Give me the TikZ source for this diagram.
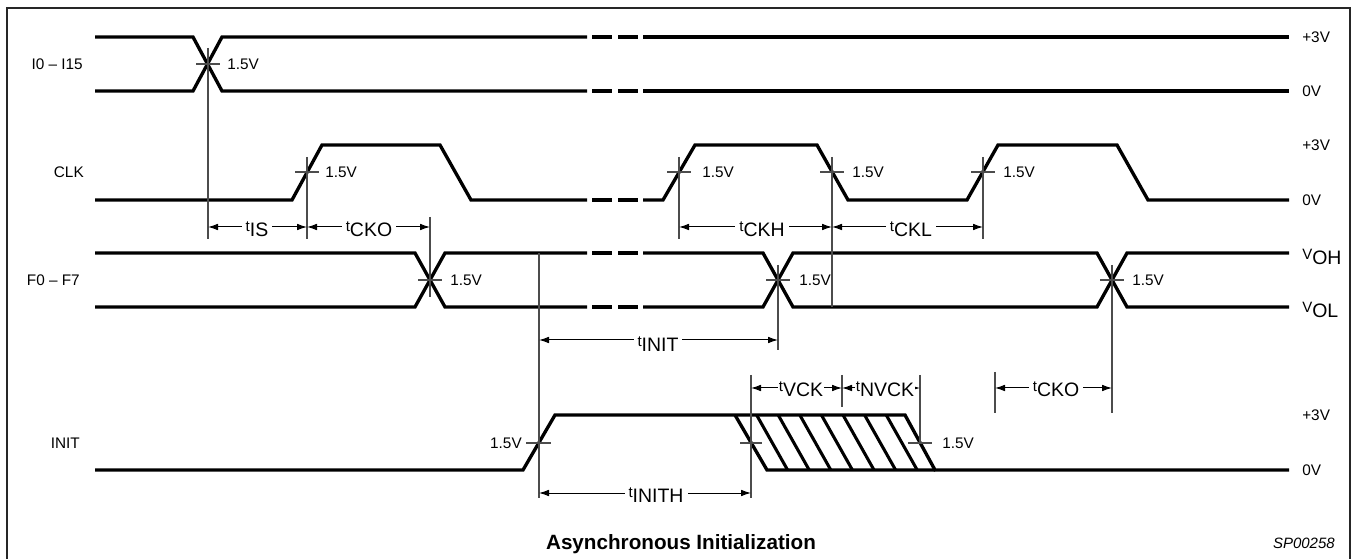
\documentclass[tikz,border=0pt]{standalone}
\usepackage{fontspec}
\setmainfont{Liberation Sans}
\usetikzlibrary{arrows.meta}
\newcommand\tsub[2]{\raisebox{3.75pt}{\fontsize{11.25}{13}\selectfont #1}{\fontsize{14.6}{16}\selectfont #2}}
\begin{document}
\begin{tikzpicture}[x=0.75pt,y=-0.75pt,
  sig/.style={line width=2.5pt, line join=miter},
  hatchl/.style={line width=2.3pt},
  refl/.style={line width=0.8pt, black!70},
  dim/.style={line width=0.75pt, {Latex[length=7.5pt,width=5pt]}-{Latex[length=7.5pt,width=5pt]}},
  lab/.style={font=\fontsize{11.5}{13}\selectfont, inner sep=0pt},
  tl/.style={fill=white, inner xsep=3pt, inner ysep=1pt, anchor=base, font=\fontsize{11.25}{13}\selectfont}]
\useasboundingbox (0,0) rectangle (1353,559);
% frame
\draw[line width=1.5pt, black!85] (7,575) -- (7,8) -- (1350,8) -- (1350,575);

% ---------- I0 - I15 ----------
\draw[sig] (95,37) -- (193,37) -- (222,91) -- (587,91);
\draw[sig] (95,91) -- (193,91) -- (222,37) -- (587,37);
\draw[sig] (643,37) -- (1289,37);
\draw[sig] (643,91) -- (1289,91);
% ---------- CLK ----------
\draw[sig] (95,200) -- (292,200) -- (322,145) -- (440,145) -- (471,200) -- (587,200);
\draw[sig] (643,200) -- (663,200) -- (695,145) -- (817,145) -- (848,200) -- (967,200) -- (998,145) -- (1117,145) -- (1148,200) -- (1289,200);
% ---------- F0 - F7 ----------
\draw[sig] (95,253) -- (415,253) -- (445,307) -- (587,307);
\draw[sig] (95,307) -- (415,307) -- (445,253) -- (587,253);
\draw[sig] (643,253) -- (763,253) -- (793,307) -- (1097,307) -- (1127,253) -- (1289,253);
\draw[sig] (643,307) -- (763,307) -- (793,253) -- (1097,253) -- (1127,307) -- (1289,307);
% break dashes
\foreach \yy in {37,91,200,253,307}
  \draw[sig] (592,\yy) -- (612,\yy) (618,\yy) -- (638,\yy);
% ---------- INIT ----------
\draw[sig] (95,470) -- (523,470) -- (555,415) -- (905,415) -- (935,470) -- (1289,470);
\draw[sig] (735,415) -- (767,470) -- (935,470);
\foreach \k in {1,...,7}
  \draw[hatchl] ({735+21.6*\k},415) -- ++(31,55);

% ---------- crossing coordinates ----------
\coordinate (cI) at (208,64);
\coordinate (c1) at (307,172);
\coordinate (c2) at (679,172);
\coordinate (c3) at (832,172);
\coordinate (c4) at (983,172);
\coordinate (f1) at (430,280);
\coordinate (f2) at (778,280);
\coordinate (f3) at (1112,280);
\coordinate (n1) at (539,443);
\coordinate (n2) at (751,443);
\coordinate (n3) at (920,443);

% ticks
\foreach \c in {cI,c1,c2,c3,c4,f1,f2,f3}
  \draw[refl] ([xshift=-9pt]\c) -- ([xshift=9pt]\c);
\draw[refl] (526,443) -- (551,443);
\draw[refl] (740,443) -- (762,443);
\draw[refl] (908,443) -- (932,443);

% vertical reference lines
\draw[refl] (208,48) -- (208,239);
\draw[refl] (307,157) -- (307,239);
\draw[refl] (679,157) -- (679,239);
\draw[refl] (832,157) -- (832,307);
\draw[refl] (983,157) -- (983,239);
\draw[refl] (430,217) -- (430,297);
\draw[refl] (778,265) -- (778,350);
\draw[refl] (1112,265) -- (1112,413);
\draw[refl] (539,253) -- (539,498);
\draw[refl] (751,375) -- (751,498);
\draw[refl] (842,375) -- (842,407);
\draw[refl] (920,375) -- (920,443);
\draw[refl] (995,372) -- (995,413);

% 1.5V labels
\node[lab, anchor=west] (vI) at (227,64) {1.5V};
\node[lab, anchor=west] (v1) at (325,172) {1.5V};
\node[lab, anchor=west] (v2) at (702,172) {1.5V};
\node[lab, anchor=west] (v3) at (852,172) {1.5V};
\node[lab, anchor=west] (v4) at (1003,172) {1.5V};
\node[lab, anchor=west] (vf1) at (450,280) {1.5V};
\node[lab, anchor=west] (vf2) at (799,280) {1.5V};
\node[lab, anchor=west] (vf3) at (1132,280) {1.5V};
\node[lab, anchor=east] (vn1) at (522,443) {1.5V};
\node[lab, anchor=west] (vn3) at (942,443) {1.5V};

% dimension arrows
\coordinate (dIS1) at (208,227); \coordinate (dIS2) at (307,227);
\coordinate (dCKO2) at (430,227);
\coordinate (dCKH1) at (679,227); \coordinate (dCKH2) at (832,227);
\coordinate (dCKL2) at (983,227);
\coordinate (dINIT1) at (539,340); \coordinate (dINIT2) at (778,340);
\coordinate (dINITH1) at (539,493); \coordinate (dINITH2) at (751,493);
\coordinate (dVCK1) at (751,388); \coordinate (dVCK2) at (842,388);
\coordinate (dNVCK2) at (920,388);
\coordinate (dCKOb1) at (995,388); \coordinate (dCKOb2) at (1112,388);

\draw[dim] (dIS1) -- (dIS2);
\draw[dim] (dIS2) -- (dCKO2);
\draw[dim] (dCKH1) -- (dCKH2);
\draw[dim] (dCKH2) -- (dCKL2);
\draw[dim] (dINIT1) -- (dINIT2);
\draw[dim] (dINITH1) -- (dINITH2);
\draw[dim] (dVCK1) -- (dVCK2);
\draw[dim] (dVCK2) -- (dNVCK2);
\draw[dim] (dCKOb1) -- (dCKOb2);

\node[tl] (tIS) at (257,237) {\tsub{t}{IS}};
\node[tl] (tCKO) at (369,237) {\tsub{t}{CKO}};
\node[tl] (tCKH) at (762,237) {\tsub{t}{CKH}};
\node[tl] (tCKL) at (911,237) {\tsub{t}{CKL}};
\node[tl] (tINIT) at (658,352) {\tsub{t}{INIT}};
\node[tl] (tINITH) at (656,503) {\tsub{t}{INITH}};
\node[tl, inner xsep=1pt] (tVCK) at (801,397) {\tsub{t}{VCK}};
\node[tl, inner xsep=1pt] (tNVCK) at (885,397) {\tsub{t}{NVCK}};
\node[tl] (tCKOb) at (1056,397) {\tsub{t}{CKO}};

% row labels
\node[lab, anchor=east] (rI) at (83,64) {I0 – I15};
\node[lab, anchor=east] (rC) at (84,172) {CLK};
\node[lab, anchor=east] (rF) at (80,280) {F0 – F7};
\node[lab, anchor=east] (rN) at (80,443) {INIT};

% level labels
\node[lab, anchor=west] (l1) at (1302,37) {+3V};
\node[lab, anchor=west] (l2) at (1302,91) {0V};
\node[lab, anchor=west] (l3) at (1302,145) {+3V};
\node[lab, anchor=west] (l4) at (1302,200) {0V};
\node[lab, anchor=base west] (l5) at (1302,265) {\tsub{V}{OH}};
\node[lab, anchor=base west] (l6) at (1302,318) {\tsub{V}{OL}};
\node[lab, anchor=west] (l7) at (1302,415) {+3V};
\node[lab, anchor=west] (l8) at (1302,470) {0V};

% title and code
\node[anchor=base, inner sep=0pt, font=\fontsize{15.5}{18}\selectfont\bfseries] (title) at (681,549) {Asynchronous Initialization};
\node[anchor=base east, inner sep=0pt, font=\fontsize{11.25}{13}\selectfont\itshape] (code) at (1335,548) {SP00258};
\end{tikzpicture}
\end{document}
